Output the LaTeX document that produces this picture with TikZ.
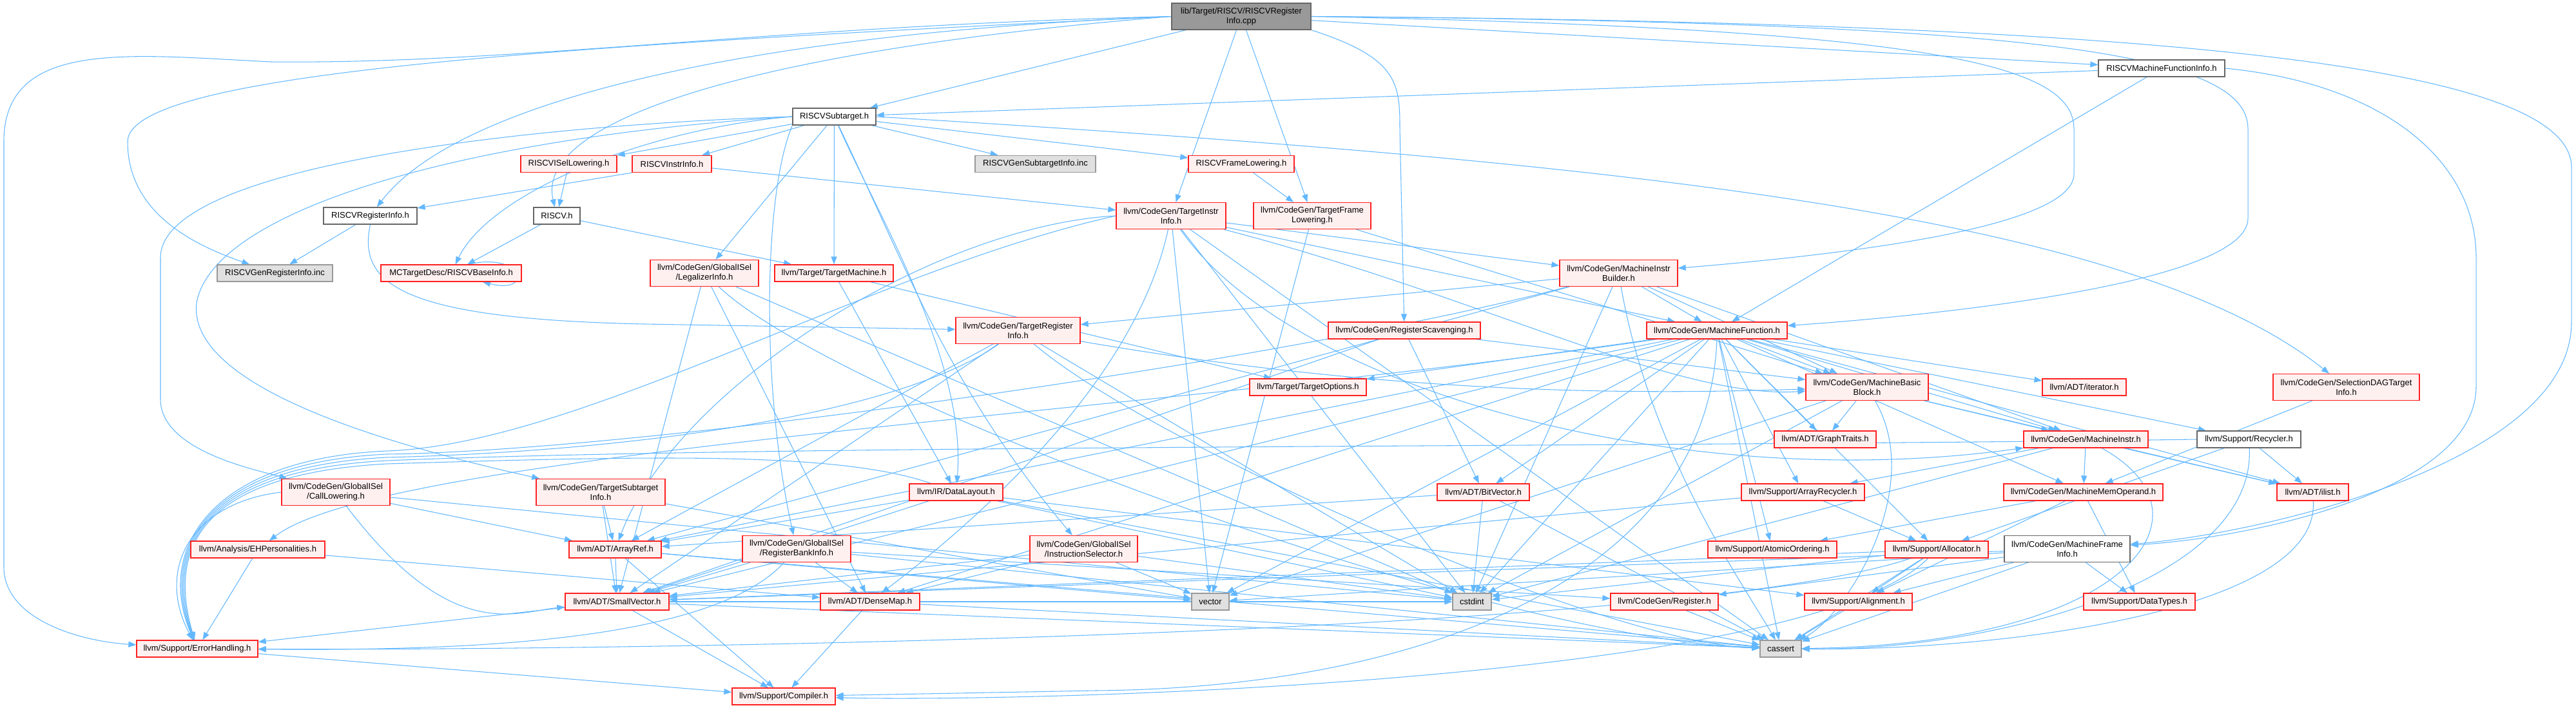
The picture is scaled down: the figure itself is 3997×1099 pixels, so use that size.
\documentclass[tikz,border=0pt]{standalone}
\usepackage{fontspec}
\setmainfont{Liberation Sans}
\usetikzlibrary{arrows.meta}
\definecolor{edgec}{HTML}{63B8FF}
\definecolor{redb}{HTML}{FF2020}
\definecolor{redf}{HTML}{FFF0F0}
\definecolor{grayb}{HTML}{666666}
\definecolor{grayc}{HTML}{999999}
\definecolor{grayf}{HTML}{E0E0E0}
\pgfdeclarelayer{bg}
\pgfdeclarelayer{edges}
\pgfsetlayers{bg,edges,main}
\begin{document}
\begin{tikzpicture}[x=1pt,y=-1pt,
  nb/.style={draw, rectangle, inner sep=0pt, align=center, font=\fontsize{13}{15}\selectfont, line width=1.3pt, minimum height=26pt},
  rn/.style={nb, draw=redb, fill=redf},
  wn/.style={nb, draw=grayb, fill=white},
  gn/.style={nb, draw=grayc, fill=grayf},
  mn/.style={nb, draw=grayb, fill=grayc},
  tall/.style={minimum height=41pt},
  wd/.style={minimum width=#1pt},
  e/.style={draw=edgec, line width=1.05pt, -{Triangle[length=12pt,width=9pt]}}
]
\useasboundingbox (0,0) rectangle (3997,1099);
\begin{pgfonlayer}{bg}
\fill[white] (0,0) rectangle (3997,1099);
\end{pgfonlayer}
% ---------------- nodes ----------------
\node[mn,tall,wd=216] (main) at (1926,25.5) {lib/Target/RISCV/RISCVRegister\\Info.cpp};
\node[wn,wd=129] (sub) at (1294.5,181) {RISCVSubtarget.h};
\node[wn,wd=196] (mfi) at (3354,106) {RISCVMachineFunctionInfo.h};
\node[rn,wd=149] (isel) at (882.5,254.5) {RISCVISelLowering.h};
\node[rn,wd=123] (instr) at (1042.5,254.5) {RISCVInstrInfo.h};
\node[gn,wd=187] (gensub) at (1606.5,254.5) {RISCVGenSubtargetInfo.inc};
\node[rn,wd=164] (framelow) at (1926,254.5) {RISCVFrameLowering.h};
\node[wn,wd=145] (reginfo) at (574.5,335) {RISCVRegisterInfo.h};
\node[wn,wd=72] (riscv) at (864,335) {RISCV.h};
\node[rn,tall,wd=170] (tii) at (1817,335) {llvm/CodeGen/TargetInstr\\Info.h};
\node[rn,tall,wd=182] (tfl) at (2036,335) {llvm/CodeGen/TargetFrame\\Lowering.h};
\node[gn,wd=179] (genreg) at (426.5,424) {RISCVGenRegisterInfo.inc};
\node[rn,wd=218] (baseinfo) at (700,424) {MCTargetDesc/RISCVBaseInfo.h};
\node[rn,tall,wd=168] (legal) at (1093,424) {llvm/CodeGen/GlobalISel\\/LegalizerInfo.h};
\node[rn,wd=184] (tm) at (1294,424) {llvm/Target/TargetMachine.h};
\node[rn,tall,wd=183] (mib) at (2511.5,424) {llvm/CodeGen/MachineInstr\\Builder.h};
\node[rn,tall,wd=193] (tri) at (1579.5,513) {llvm/CodeGen/TargetRegister\\Info.h};
\node[rn,wd=236] (rs) at (2179,513) {llvm/CodeGen/RegisterScavenging.h};
\node[rn,wd=218] (mf) at (2664,513) {llvm/CodeGen/MachineFunction.h};
\node[rn,wd=181] (topt) at (2029.5,601) {llvm/Target/TargetOptions.h};
\node[rn,tall,wd=190] (mbb) at (2897,601) {llvm/CodeGen/MachineBasic\\Block.h};
\node[rn,wd=130] (iter) at (3234,601) {llvm/ADT/iterator.h};
\node[rn,tall,wd=227] (sdag) at (3640.5,601) {llvm/CodeGen/SelectionDAGTarget\\Info.h};
\node[rn,wd=158] (graph) at (2832,682) {llvm/ADT/GraphTraits.h};
\node[rn,wd=193] (mi) at (3236.5,682) {llvm/CodeGen/MachineInstr.h};
\node[wn,wd=161] (recyc) at (3489.5,682) {llvm/Support/Recycler.h};
\node[rn,tall,wd=168] (calllow) at (521,764) {llvm/CodeGen/GlobalISel\\/CallLowering.h};
\node[rn,tall,wd=200] (tsi) at (932,764) {llvm/CodeGen/TargetSubtarget\\Info.h};
\node[rn,wd=145] (dl) at (1483.5,764) {llvm/IR/DataLayout.h};
\node[rn,wd=143] (bitv) at (2301.5,764) {llvm/ADT/BitVector.h};
\node[rn,wd=191] (arec) at (2797.5,764) {llvm/Support/ArrayRecycler.h};
\node[rn,wd=247] (mmo) at (3232.5,764) {llvm/CodeGen/MachineMemOperand.h};
\node[rn,wd=111] (ilist) at (3588.5,764) {llvm/ADT/ilist.h};
\node[rn,wd=208] (eh) at (400,853) {llvm/Analysis/EHPersonalities.h};
\node[rn,wd=143] (aref) at (954.5,853) {llvm/ADT/ArrayRef.h};
\node[rn,tall,wd=168] (rbi) at (1236,852) {llvm/CodeGen/GlobalISel\\/RegisterBankInfo.h};
\node[rn,tall,wd=167] (isel2) at (1681.5,852) {llvm/CodeGen/GlobalISel\\/InstructionSelector.h};
\node[rn,wd=200] (atomic) at (2750,853) {llvm/Support/AtomicOrdering.h};
\node[rn,wd=160] (alloc) at (3005,853) {llvm/Support/Allocator.h};
\node[wn,tall,wd=195] (mfinfo) at (3207.5,852) {llvm/CodeGen/MachineFrame\\Info.h};
\node[rn,wd=161] (svec) at (957.5,934) {llvm/ADT/SmallVector.h};
\node[rn,wd=154] (dmap) at (1350,934) {llvm/ADT/DenseMap.h};
\node[gn,wd=58] (vector) at (1878,934) {vector};
\node[gn,wd=60] (cstdint) at (2284,934) {cstdint};
\node[rn,wd=167] (reg) at (2582.5,934) {llvm/CodeGen/Register.h};
\node[rn,wd=167] (align) at (2883.5,934) {llvm/Support/Alignment.h};
\node[rn,wd=173] (dtypes) at (3319.5,934) {llvm/Support/DataTypes.h};
\node[rn,wd=188] (err) at (306,1007) {llvm/Support/ErrorHandling.h};
\node[gn,wd=64] (cassert) at (2763,1007) {cassert};
\node[rn,wd=160] (comp) at (1216,1081) {llvm/Support/Compiler.h};
% ---------------- edges ----------------
\begin{pgfonlayer}{edges}
% main file
\draw[e] (main) -- (sub);
\draw[e] (main) -- (mfi);
\draw[e] (main) -- (tii);
\draw[e] (main) -- (tfl);
\draw[e] (main.west) .. controls (1100,55) and (700,170) .. (reginfo);
\draw[e] (main.west) .. controls (1150,80) and (830,190) .. (riscv);
\draw[e] (main.west) .. controls (900,70) and (198,110) .. (198,220) .. controls (198,330) and (300,380) .. (genreg);
\draw[e] (main.west) .. controls (1200,40) and (800,100) .. (420,96) .. controls (200,85) and (6,60) .. (6,220) -- (6,880) .. controls (6,960) and (120,995) .. (err);
\draw[e] (main.south east) .. controls (2170,90) and (2172,130) .. (2172,200) -- (rs);
\draw[e] (main.east) .. controls (3000,45) and (3218,100) .. (3218,200) -- (3218,270) .. controls (3218,360) and (2800,400) .. (mib);
\draw[e] (main.east) .. controls (3150,35) and (3488,80) .. (3488,200) -- (3488,339) .. controls (3488,440) and (3000,490) .. (mf);
\draw[e] (main.east) .. controls (3350,35) and (3990,100) .. (3990,260) -- (3990,500) .. controls (3990,720) and (3500,830) .. (mfinfo);
% RISCVMachineFunctionInfo.h
\draw[e] (mfi) -- (sub);
\draw[e] (mfi) -- (mf);
\draw[e] (mfi.east) .. controls (3700,130) and (3842,250) .. (3842,400) -- (3842,600) .. controls (3842,760) and (3500,835) .. (mfinfo);
% RISCVSubtarget.h
\draw[e] (sub) -- (isel);
\draw[e] (sub) -- (instr);
\draw[e] (sub) -- (gensub);
\draw[e] (sub) -- (framelow);
\draw[e] (sub) -- (legal);
\draw[e] (sub) -- (tm);
\draw[e] (sub.west) .. controls (1000,200) and (760,300) .. (baseinfo);
\draw[e] (sub.west) .. controls (800,195) and (249,260) .. (249,400) -- (249,620) .. controls (249,700) and (400,730) .. (calllow);
\draw[e] (sub.west) .. controls (700,215) and (330,330) .. (305,470) .. controls (290,600) and (600,690) .. (tsi);
\draw[e] (sub) .. controls (1360,330) and (1500,560) .. (dl);
\draw[e] (sub.south west) .. controls (1185,300) and (1180,600) .. (rbi);
\draw[e] (sub) .. controls (1400,400) and (1470,600) .. (isel2);
\draw[e] (sub.east) .. controls (2500,250) and (3300,330) .. (sdag);
% RISCV headers
\draw[e] (isel) -- (riscv);
\draw[e] (instr.south west) -- (reginfo);
\draw[e] (instr) -- (tii);
\draw[e] (framelow) -- (tfl);
\draw[e] (reginfo) -- (genreg);
\draw[e] (reginfo.south) .. controls (555,440) and (620,495) .. (1000,503) -- (tri);
\draw[e] (riscv) -- (baseinfo);
\draw[e] (riscv) -- (tm);
\draw[e] ([xshift=27pt]baseinfo.north) .. controls +(85,-20) and +(80,20) .. ([xshift=49pt]baseinfo.south);
% TargetInstrInfo.h
\draw[e] (tii) -- (mib);
\draw[e] (tii) -- (mf);
\draw[e] (tii) .. controls (2300,460) and (2600,620) .. (mbb);
\draw[e] (tii) .. controls (2000,600) and (2600,770) .. (mi);
\draw[e] (tii.west) .. controls (1450,350) and (1050,600) .. (aref);
\draw[e] (tii) .. controls (1760,600) and (1500,820) .. (dmap);
\draw[e] (tii) -- (vector);
\draw[e] (tii) -- (cstdint);
\draw[e] (tii) -- (cassert);
\draw[e] (tii.west) .. controls (1350,420) and (900,690) .. (600,700) .. controls (330,712) and (240,850) .. (err);
% TargetFrameLowering.h
\draw[e] (tfl) -- (mbb);
\draw[e] (tfl) -- (vector);
% LegalizerInfo.h
\draw[e] (legal) -- (svec);
\draw[e] (legal) -- (dmap);
\draw[e] (legal) -- (cstdint);
\draw[e] (legal) .. controls (1300,620) and (2300,990) .. (cassert);
% TargetMachine.h
\draw[e] (tm) -- (topt);
\draw[e] (tm) -- (dl);
% MachineInstrBuilder.h
\draw[e] (mib) -- (mf);
\draw[e] (mib) -- (mbb);
\draw[e] (mib) -- (mi);
\draw[e] (mib) -- (tri);
\draw[e] (mib) -- (aref);
\draw[e] (mib) .. controls (2000,560) and (1000,700) .. (600,705) .. controls (325,718) and (245,850) .. (err);
\draw[e] (mib) .. controls (2560,700) and (2700,900) .. (cassert);
\draw[e] (mib) -- (cstdint);
% TargetRegisterInfo.h
\draw[e] (tri) -- (aref);
\draw[e] (tri) -- (svec);
\draw[e] (tri) .. controls (2200,620) and (2600,610) .. (mbb);
\draw[e] (tri) .. controls (1400,640) and (1000,700) .. (600,710) .. controls (320,724) and (250,850) .. (err);
\draw[e] (tri) .. controls (1800,700) and (2500,1000) .. (cassert);
\draw[e] (tri) -- (cstdint);
% RegisterScavenging.h
\draw[e] (rs) -- (bitv);
\draw[e] (rs) -- (svec);
\draw[e] (rs) -- (mbb);
% MachineFunction.h
\draw[e] (mf) -- (aref);
\draw[e] (mf) -- (bitv);
\draw[e] (mf) -- (dmap);
\draw[e] (mf) -- (graph);
\draw[e] (mf) -- (svec);
\draw[e] (mf) -- (ilist);
\draw[e] (mf) -- (iter);
\draw[e] (mf) .. controls (1800,640) and (600,700) .. (eh);
\draw[e] (mf) -- (mbb);
\draw[e] (mf) -- (mi);
\draw[e] (mf) -- (mmo);
\draw[e] (mf) -- (alloc);
\draw[e] (mf) -- (arec);
\draw[e] (mf) -- (atomic);
\draw[e] (mf.south) .. controls (2650,900) and (2200,1068) .. (1700,1072) -- (comp);
\draw[e] (mf) -- (recyc);
\draw[e] (mf) -- (topt);
\draw[e] (mf) -- (cassert);
\draw[e] (mf) -- (cstdint);
\draw[e] (mf) -- (vector);
% SelectionDAGTargetInfo.h
\draw[e] (sdag) -- (mmo);
% MachineBasicBlock.h
\draw[e] (mbb) -- (graph);
\draw[e] (mbb) -- (ilist);
\draw[e] (mbb) -- (mi);
\draw[e] (mbb) .. controls (2990,760) and (2860,960) .. (cassert);
\draw[e] (mbb) -- (cstdint);
\draw[e] (mbb) -- (vector);
% MachineInstr.h
\draw[e] (mi) -- (mmo);
\draw[e] (mi) -- (ilist);
\draw[e] (mi) -- (arec);
\draw[e] (mi) .. controls (3450,800) and (3300,1000) .. (cassert);
\draw[e] (mi) -- (cstdint);
% Recycler.h
\draw[e] (recyc) -- (ilist);
\draw[e] (recyc) -- (alloc);
\draw[e] (recyc.west) .. controls (2500,695) and (1200,690) .. (600,715) .. controls (315,730) and (255,850) .. (err);
\draw[e] (recyc) .. controls (3500,900) and (3100,1010) .. (cassert);
% ArrayRecycler.h
\draw[e] (arec) -- (alloc);
\draw[e] (arec) -- (svec);
% BitVector.h
\draw[e] (bitv) -- (aref);
\draw[e] (bitv) -- (cstdint);
\draw[e] (bitv) -- (cassert);
% MachineMemOperand.h
\draw[e] (mmo) -- (atomic);
\draw[e] (mmo) -- (dtypes);
\draw[e] (mmo) -- (align);
% ilist.h
\draw[e] (ilist) .. controls (3600,950) and (3100,1010) .. (cassert);
% Allocator.h
\draw[e] (alloc) -- (align);
\draw[e] (alloc) -- (cassert);
\draw[e] (alloc) -- (cstdint);
\draw[e] (alloc) .. controls (2600,990) and (900,1010) .. (err);
\draw[e] (alloc) .. controls (2800,1060) and (1600,1090) .. (comp);
\draw[e] (alloc) -- (svec);
% Alignment.h, Register.h
\draw[e] (align) -- (cassert);
\draw[e] (reg) -- (cassert);
% MachineFrameInfo.h
\draw[e] (mfinfo) -- (svec);
\draw[e] (mfinfo) -- (reg);
\draw[e] (mfinfo) -- (align);
\draw[e] (mfinfo) -- (dtypes);
\draw[e] (mfinfo) -- (cassert);
\draw[e] (mfinfo) -- (vector);
% DataLayout.h
\draw[e] (dl) -- (aref);
\draw[e] (dl) -- (svec);
\draw[e] (dl) .. controls (1300,700) and (1000,708) .. (600,720) .. controls (310,736) and (260,850) .. (err);
\draw[e] (dl) -- (align);
\draw[e] (dl) -- (cassert);
\draw[e] (dl) -- (cstdint);
% TargetSubtargetInfo.h
\draw[e] (tsi) -- (aref);
\draw[e] (tsi) -- (svec);
\draw[e] (tsi) -- (vector);
% CallLowering.h
\draw[e] (calllow) -- (aref);
\draw[e] (calllow) .. controls (700,1000) and (800,950) .. (svec);
\draw[e] (calllow.west) .. controls (300,780) and (240,880) .. (err);
\draw[e] (calllow) -- (cstdint);
% EHPersonalities.h
\draw[e] (eh) -- (dmap);
\draw[e] (eh) -- (err);
% ArrayRef.h
\draw[e] (aref) -- (svec);
\draw[e] (aref) -- (comp);
\draw[e] (aref) -- (cassert);
\draw[e] (aref) -- (vector);
% SmallVector.h
\draw[e] (svec) -- (err);
\draw[e] (svec) -- (comp);
\draw[e] (svec) -- (cassert);
\draw[e] (svec) -- (cstdint);
% DenseMap.h
\draw[e] (dmap) -- (comp);
\draw[e] (dmap) -- (cassert);
% ErrorHandling.h
\draw[e] (err) -- (comp);
% RegisterBankInfo.h
\draw[e] (rbi) -- (dmap);
\draw[e] (rbi) -- (svec);
\draw[e] (rbi) -- (reg);
\draw[e] (rbi) .. controls (1100,1000) and (700,1010) .. (err);
\draw[e] (rbi) -- (cassert);
% InstructionSelector.h
\draw[e] (isel2) -- (dmap);
\draw[e] (isel2) -- (svec);
\draw[e] (isel2) -- (cstdint);
\draw[e] (isel2) -- (vector);
\end{pgfonlayer}
\end{tikzpicture}
\end{document}
